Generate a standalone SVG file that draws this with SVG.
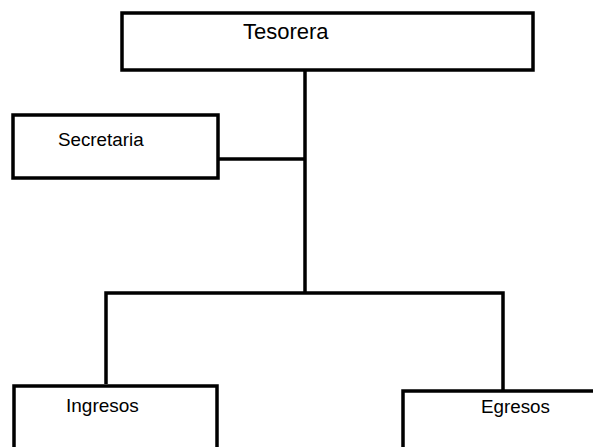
<svg xmlns="http://www.w3.org/2000/svg" width="593" height="447" viewBox="0 0 593 447">
<style>
.box{fill:#fff;stroke:#000;stroke-width:3.5}
.ln{fill:none;stroke:#000;stroke-width:3.5}
.t{font-family:"Liberation Sans",Arial,sans-serif;fill:#000}
</style>
<rect width="593" height="447" fill="#fff"/>
<g id="connectors">
<line class="ln" x1="305" y1="70" x2="305" y2="293"/>
<line class="ln" x1="218" y1="159" x2="305" y2="159"/>
<polyline class="ln" points="106,384 106,293 503,293 503,391"/>
</g>
<g id="tesorera">
<rect class="box" x="122" y="13" width="411" height="57"/>
<text class="t" x="243" y="39" font-size="22">Tesorera</text>
</g>
<g id="secretaria">
<rect class="box" x="13" y="115" width="205" height="63"/>
<text class="t" x="58" y="146" font-size="18.8">Secretaria</text>
</g>
<g id="ingresos">
<rect class="box" x="14" y="386" width="203" height="80"/>
<text class="t" x="66" y="412" font-size="19">Ingresos</text>
</g>
<g id="egresos">
<rect class="box" x="403" y="391" width="200" height="80"/>
<text class="t" x="481" y="413" font-size="18.8">Egresos</text>
</g>
</svg>
